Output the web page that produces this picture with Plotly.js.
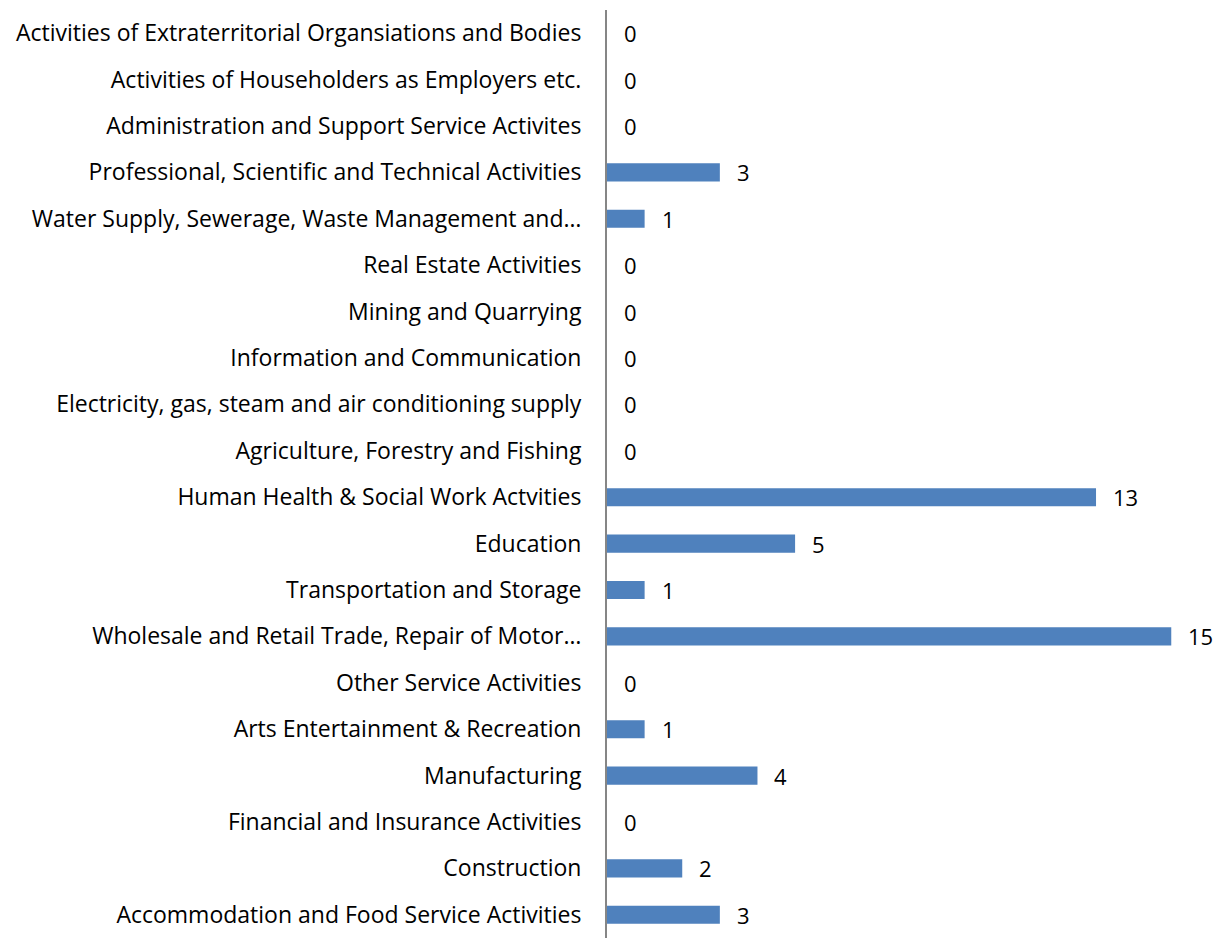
<!DOCTYPE html>
<html>
<head>
<meta charset="utf-8">
<script src="https://cdn.plot.ly/plotly-3.0.1.min.js"></script>
<style>html,body{margin:0;padding:0;background:#fff;}#chart{width:1219px;height:938px;}</style>
</head>
<body>
<div id="chart"></div>
<script>
// Categories listed top to bottom as shown in the chart
const categories = [
  "Activities of Extraterritorial Organsiations and Bodies",
  "Activities of Householders as Employers etc.",
  "Administration and Support Service Activites",
  "Professional, Scientific and Technical Activities",
  "Water Supply, Sewerage, Waste Management and…",
  "Real Estate Activities",
  "Mining and Quarrying",
  "Information and Communication",
  "Electricity, gas, steam and air conditioning supply",
  "Agriculture, Forestry and Fishing",
  "Human Health & Social Work Actvities",
  "Education",
  "Transportation and Storage",
  "Wholesale and Retail Trade, Repair of Motor…",
  "Other Service Activities",
  "Arts Entertainment & Recreation",
  "Manufacturing",
  "Financial and Insurance Activities",
  "Construction",
  "Accommodation and Food Service Activities"
];
const values = [0, 0, 0, 3, 1, 0, 0, 0, 0, 0, 13, 5, 1, 15, 0, 1, 4, 0, 2, 3];

const FONT = "'Open Sans', Lato, sans-serif";

const trace = {
  type: "bar",
  orientation: "h",
  x: values,
  y: categories,
  marker: {color: "#4F81BD"},
  hoverinfo: "x+y"
};

const annotations = categories.map((c, i) => ({
  x: values[i],
  y: c,
  xref: "x",
  yref: "y",
  text: String(values[i]),
  showarrow: false,
  xanchor: "left",
  xshift: 15,
  font: {family: FONT, size: 22, color: "#000"}
}));

const layout = {
  width: 1219,
  height: 938,
  margin: {l: 607, r: 12, t: 10, b: 0},
  paper_bgcolor: "#fff",
  plot_bgcolor: "#fff",
  bargap: 0.61,
  showlegend: false,
  font: {family: FONT, size: 23, color: "#000"},
  xaxis: {
    range: [0, 15.95],
    showgrid: false,
    zeroline: false,
    showticklabels: false,
    ticks: "",
    showline: false,
    fixedrange: true
  },
  yaxis: {
    type: "category",
    autorange: "reversed",
    showline: true,
    linecolor: "#868686",
    linewidth: 2,
    ticks: "",
    ticklabelstandoff: 19,
    showgrid: false,
    zeroline: false,
    tickfont: {family: FONT, size: 23, color: "#000"},
    fixedrange: true
  },
  annotations: annotations
};

Plotly.newPlot("chart", [trace], layout, {displayModeBar: false, staticPlot: true});
</script>
</body>
</html>
